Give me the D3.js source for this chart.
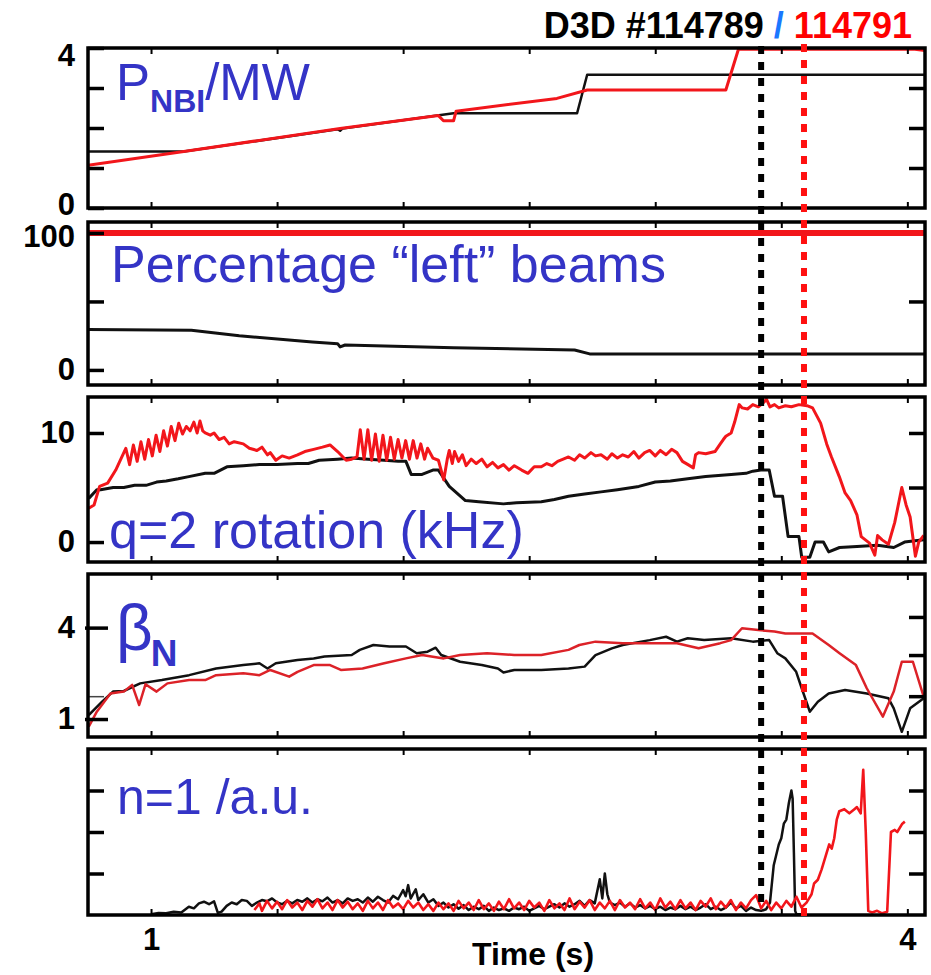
<!DOCTYPE html>
<html>
<head>
<meta charset="utf-8">
<script src="https://cdn.jsdelivr.net/npm/d3@7/dist/d3.min.js"></script>
<style>
  body { margin: 0; background: #fff; }
  svg text { font-family: "Liberation Sans", Arial, sans-serif; }
</style>
</head>
<body>
<svg id="chart" width="931" height="975"></svg>
<script>
// time axis
const timeDomain = [0.75, 4.07];
const timeTicks = [1, 1.5, 2, 2.5, 3, 3.5, 4];
const timeLabels = [1, 4];

// shots and the two marked times (s)
const shotBlack = 'D3D #114789 ';
const shotRed = ' 114791';
const markBlack = 3.42;
const markRed = 3.59;

// P_NBI (MW)
const pnbiBlack = [[0.75, 1.41], [1.13, 1.41], [1.74, 1.97], [1.75, 1.93], [1.76, 1.99], [2.2, 2.37],
  [2.69, 2.37], [2.73, 3.33], [4.07, 3.33]];
const pnbiRed = [[0.75, 1.07], [1.13, 1.41], [1.75, 1.99], [2.14, 2.31], [2.16, 2.18], [2.2, 2.18],
  [2.21, 2.42], [2.61, 2.74], [2.73, 2.95], [3.28, 2.95], [3.33, 3.97], [4.03, 3.97], [4.07, 3.94]];

// percentage "left" beams
const leftBlack = [[0.75, 29.5], [1.16, 29], [1.35, 25], [1.64, 20.4], [1.74, 19.2], [1.75, 16.8],
  [1.77, 18.2], [2.2, 16.2], [2.68, 14.6], [2.74, 11.7], [4.07, 11.7]];
const leftRed = [[0.75, 100], [4.07, 100]];

// q=2 rotation (kHz)
const rotBlack = [[0.753, 4.0], [0.785, 4.8], [0.8, 4.8], [0.85, 5.0], [0.892, 5.0], [0.935, 5.2],
  [0.98, 5.2], [1.022, 5.5], [1.06, 5.6], [1.108, 5.8], [1.15, 6.0], [1.215, 6.3], [1.25, 6.3],
  [1.301, 6.9], [1.366, 7.0], [1.43, 7.1], [1.5, 7.1], [1.581, 7.2], [1.624, 7.2], [1.667, 7.5],
  [1.74, 7.6], [1.796, 7.7], [1.86, 7.6], [1.925, 7.5], [1.98, 7.4], [2.011, 7.4], [2.032, 6.2],
  [2.075, 6.2], [2.118, 6.6], [2.14, 6.6], [2.183, 5.1], [2.247, 3.8], [2.3, 3.7], [2.398, 3.5],
  [2.45, 3.6], [2.548, 3.7], [2.6, 3.9], [2.656, 4.2], [2.72, 4.4], [2.785, 4.6], [2.85, 4.8],
  [2.935, 5.1], [3.0, 5.5], [3.06, 5.6], [3.129, 5.8], [3.2, 6.0], [3.301, 6.2], [3.36, 6.3],
  [3.387, 6.5], [3.419, 6.6], [3.452, 6.6], [3.473, 4.2], [3.505, 4.2], [3.527, 0.5], [3.57, 0.5],
  [3.581, -1.4], [3.613, -1.4], [3.634, 0.0], [3.667, 0.0], [3.688, -0.9], [3.731, -0.5],
  [3.8, -0.4], [3.882, -0.3], [3.946, -0.5], [3.989, 0.0], [4.065, 0.2]];
const rotRed = [[0.753, 3.1], [0.774, 3.4], [0.796, 5.1], [0.828, 5.4], [0.86, 6.6], [0.882, 7.7],
  [0.9, 8.6], [0.915, 7.1], [0.93, 8.9], [0.945, 7.4], [0.96, 9.2], [0.975, 7.6], [0.99, 9.4],
  [1.005, 7.9], [1.02, 9.8], [1.035, 8.3], [1.05, 10.2], [1.065, 8.8], [1.08, 10.6], [1.095, 9.3],
  [1.11, 10.9], [1.125, 9.9], [1.14, 10.6], [1.155, 10.2], [1.17, 11.0], [1.183, 10.0], [1.194, 11.1],
  [1.205, 10.2], [1.215, 10.0],
  [1.235, 9.8], [1.25, 10.0], [1.27, 9.4], [1.29, 9.6], [1.31, 9.0], [1.33, 9.2], [1.366, 9.0],
  [1.39, 8.6], [1.42, 8.4], [1.44, 8.7], [1.462, 8.0], [1.473, 8.2], [1.495, 7.5], [1.52, 7.9],
  [1.548, 7.7], [1.581, 8.0], [1.61, 8.3], [1.645, 8.5], [1.68, 8.7], [1.71, 8.9], [1.74, 8.3],
  [1.774, 7.5], [1.796, 7.6], [1.817, 7.8], [1.83, 10.3], [1.845, 7.6], [1.86, 10.3], [1.875, 7.5],
  [1.89, 9.9], [1.905, 7.4], [1.92, 9.8], [1.935, 7.5], [1.95, 9.6], [1.965, 7.6], [1.98, 9.4],
  [1.995, 7.7], [2.01, 9.3], [2.025, 7.6], [2.04, 9.3], [2.055, 7.7], [2.07, 9.0], [2.085, 7.6],
  [2.097, 8.6], [2.118, 7.7], [2.14, 7.5], [2.161, 5.7], [2.175, 7.6],
  [2.183, 8.4], [2.195, 7.2], [2.204, 8.3], [2.22, 7.4], [2.235, 8.0], [2.25, 7.0], [2.27, 7.6],
  [2.29, 7.2], [2.312, 7.6], [2.333, 6.9], [2.355, 7.3], [2.376, 6.8], [2.398, 7.1], [2.42, 6.6],
  [2.441, 7.0], [2.47, 6.6], [2.495, 6.3], [2.52, 6.9], [2.548, 6.9], [2.57, 7.2], [2.59, 7.0],
  [2.613, 7.4], [2.635, 7.6], [2.656, 7.8], [2.68, 7.5], [2.7, 8.0], [2.72, 7.7], [2.745, 8.2],
  [2.763, 7.9], [2.785, 8.0], [2.81, 7.6], [2.828, 8.1], [2.85, 7.7], [2.871, 8.0], [2.893, 7.8],
  [2.915, 8.3], [2.935, 7.7], [2.958, 8.2], [2.978, 8.4], [3.0, 7.9], [3.02, 8.4], [3.043, 8.0],
  [3.065, 8.5], [3.086, 8.2], [3.108, 7.4], [3.13, 7.1], [3.151, 6.8], [3.16, 8.0], [3.172, 8.2],
  [3.2, 8.1], [3.237, 8.3], [3.258, 9.0], [3.27, 9.4], [3.28, 9.7], [3.301, 10.0], [3.315, 11.0],
  [3.333, 12.6], [3.345, 12.3], [3.366, 12.2], [3.387, 12.6], [3.409, 12.4], [3.43, 12.8],
  [3.441, 13.1], [3.455, 12.4], [3.473, 12.6], [3.49, 12.3], [3.516, 12.5], [3.54, 12.4],
  [3.57, 12.6], [3.602, 12.5], [3.624, 12.3], [3.656, 10.9], [3.68, 9.0], [3.699, 7.8], [3.73, 6.0],
  [3.753, 4.5], [3.775, 3.8], [3.8, 2.5], [3.817, 0.5], [3.85, -0.1], [3.871, -1.2], [3.882, 0.6],
  [3.9, 0.2], [3.925, -0.2], [3.95, 1.8], [3.978, 5.0], [3.995, 3.4], [4.011, 2.3], [4.032, -1.3],
  [4.045, 0.0], [4.065, 0.6]];

// beta_N
const betaBlack = [[0.753, 1.13], [0.806, 1.57], [0.849, 1.9], [0.892, 1.92], [0.957, 2.17],
  [1.043, 2.28], [1.151, 2.44], [1.258, 2.66], [1.366, 2.77], [1.43, 2.83], [1.462, 2.66],
  [1.495, 2.83], [1.581, 2.94], [1.645, 2.99], [1.688, 3.05], [1.796, 3.1], [1.828, 3.27],
  [1.882, 3.43], [1.946, 3.38], [2.011, 3.38], [2.054, 3.16], [2.097, 3.21], [2.129, 3.34],
  [2.151, 3.1], [2.226, 2.88], [2.312, 2.77], [2.376, 2.66], [2.398, 2.53], [2.441, 2.61],
  [2.548, 2.61], [2.656, 2.66], [2.72, 2.72], [2.763, 3.1], [2.828, 3.32], [2.871, 3.43],
  [2.978, 3.59], [3.043, 3.7], [3.086, 3.54], [3.129, 3.65], [3.194, 3.59], [3.301, 3.65],
  [3.387, 3.54], [3.452, 3.59], [3.484, 3.16], [3.516, 2.99], [3.559, 2.55], [3.581, 2.01],
  [3.613, 1.24], [3.645, 1.57], [3.688, 1.84], [3.753, 1.95], [3.839, 1.84], [3.925, 1.68],
  [3.946, 1.35], [3.978, 0.58], [4.011, 1.35], [4.065, 1.68]];
const betaRed = [[0.753, 0.75], [0.785, 1.24], [0.839, 1.84], [0.892, 1.9], [0.925, 2.12],
  [0.953, 1.46], [0.978, 2.14], [1.022, 1.9], [1.065, 2.17], [1.151, 2.28], [1.215, 2.28],
  [1.258, 2.44], [1.366, 2.5], [1.43, 2.44], [1.473, 2.61], [1.548, 2.39], [1.581, 2.55],
  [1.645, 2.77], [1.71, 2.77], [1.753, 2.61], [1.839, 2.66], [1.925, 2.83], [2.011, 2.99],
  [2.075, 3.1], [2.161, 2.99], [2.226, 3.1], [2.333, 3.16], [2.441, 3.1], [2.548, 3.1],
  [2.656, 3.27], [2.699, 3.43], [2.763, 3.54], [2.871, 3.49], [2.978, 3.49], [3.086, 3.49],
  [3.172, 3.32], [3.258, 3.49], [3.301, 3.59], [3.344, 3.98], [3.409, 3.92], [3.473, 3.87],
  [3.516, 3.81], [3.624, 3.81], [3.688, 3.43], [3.731, 3.16], [3.796, 2.77], [3.839, 2.01],
  [3.903, 1.08], [3.946, 1.9], [3.978, 2.88], [4.022, 2.88], [4.065, 1.73]];

// n=1 amplitude (a.u.)
const n1Black = [[1.0, 0.02], [1.03, 0.05], [1.06, 0.04], [1.09, 0.08], [1.12, 0.06], [1.15, 0.2],
  [1.17, 0.16], [1.19, 0.28], [1.21, 0.32], [1.23, 0.26], [1.25, 0.33], [1.265, 0.05], [1.28, 0.08],
  [1.3, 0.22], [1.32, 0.3], [1.34, 0.26], [1.36, 0.36], [1.38, 0.34], [1.4, 0.22], [1.42, 0.3],
  [1.44, 0.36], [1.46, 0.33], [1.48, 0.4], [1.5, 0.3], [1.52, 0.26], [1.54, 0.34], [1.56, 0.28],
  [1.58, 0.36], [1.6, 0.32], [1.62, 0.4], [1.64, 0.3], [1.66, 0.38], [1.68, 0.33], [1.7, 0.42],
  [1.72, 0.3], [1.74, 0.36], [1.76, 0.28], [1.78, 0.4], [1.8, 0.34], [1.82, 0.38], [1.84, 0.3],
  [1.86, 0.42], [1.88, 0.32], [1.9, 0.44], [1.92, 0.36], [1.94, 0.3], [1.96, 0.46], [1.98, 0.38],
  [2.0, 0.6], [2.01, 0.45], [2.02, 0.72], [2.03, 0.4], [2.05, 0.62], [2.06, 0.36], [2.08, 0.5],
  [2.1, 0.3], [2.12, 0.38], [2.14, 0.22], [2.16, 0.3], [2.18, 0.18], [2.2, 0.26], [2.22, 0.15],
  [2.24, 0.24], [2.26, 0.12], [2.28, 0.2], [2.3, 0.14], [2.32, 0.22], [2.34, 0.1], [2.36, 0.18],
  [2.38, 0.12], [2.4, 0.16], [2.42, 0.1], [2.44, 0.18], [2.46, 0.14], [2.48, 0.2], [2.5, 0.1],
  [2.52, 0.16], [2.54, 0.22], [2.56, 0.14], [2.58, 0.2], [2.6, 0.26], [2.62, 0.18], [2.64, 0.28],
  [2.66, 0.2], [2.68, 0.26], [2.7, 0.34], [2.72, 0.22], [2.74, 0.36], [2.76, 0.28], [2.78, 0.86],
  [2.79, 0.4], [2.8, 1.0], [2.81, 0.5], [2.82, 0.3], [2.84, 0.24], [2.86, 0.3], [2.88, 0.2],
  [2.9, 0.28], [2.92, 0.18], [2.94, 0.24], [2.96, 0.16], [2.98, 0.22], [3.0, 0.14], [3.02, 0.2],
  [3.04, 0.12], [3.06, 0.18], [3.08, 0.14], [3.1, 0.22], [3.12, 0.14], [3.14, 0.2], [3.16, 0.12],
  [3.18, 0.18], [3.2, 0.26], [3.22, 0.14], [3.24, 0.2], [3.26, 0.12], [3.28, 0.18], [3.3, 0.3],
  [3.32, 0.16], [3.34, 0.22], [3.36, 0.1], [3.38, 0.18], [3.4, 0.12], [3.42, 0.1], [3.44, 0.14],
  [3.455, 0.3], [3.47, 1.2], [3.49, 1.7], [3.5, 1.85], [3.51, 2.2], [3.52, 2.3], [3.53, 2.7],
  [3.54, 3.0], [3.545, 2.8], [3.55, 1.5], [3.555, 0.1], [3.56, 0.02], [3.58, 0.02]];
const n1Red = [[1.41, 0.12], [1.43, 0.28], [1.44, 0.1], [1.46, 0.34], [1.48, 0.16], [1.5, 0.32],
  [1.52, 0.14], [1.54, 0.36], [1.56, 0.18], [1.58, 0.3], [1.6, 0.12], [1.62, 0.34], [1.64, 0.2],
  [1.66, 0.38], [1.68, 0.16], [1.7, 0.3], [1.72, 0.12], [1.74, 0.36], [1.76, 0.18], [1.78, 0.32],
  [1.8, 0.14], [1.82, 0.28], [1.84, 0.1], [1.86, 0.34], [1.88, 0.16], [1.9, 0.3], [1.92, 0.12],
  [1.94, 0.36], [1.96, 0.18], [1.98, 0.28], [2.0, 0.14], [2.02, 0.34], [2.04, 0.18], [2.06, 0.3],
  [2.08, 0.12], [2.1, 0.26], [2.12, 0.1], [2.14, 0.3], [2.16, 0.14], [2.18, 0.28], [2.2, 0.1],
  [2.22, 0.34], [2.24, 0.16], [2.26, 0.3], [2.28, 0.12], [2.3, 0.36], [2.32, 0.14], [2.34, 0.28],
  [2.36, 0.1], [2.38, 0.32], [2.4, 0.14], [2.42, 0.38], [2.44, 0.16], [2.46, 0.3], [2.48, 0.12],
  [2.5, 0.34], [2.52, 0.18], [2.54, 0.3], [2.56, 0.1], [2.58, 0.36], [2.6, 0.16], [2.62, 0.28],
  [2.64, 0.12], [2.66, 0.4], [2.68, 0.14], [2.7, 0.32], [2.72, 0.18], [2.74, 0.36], [2.76, 0.12],
  [2.78, 0.3], [2.8, 0.16], [2.82, 0.34], [2.84, 0.12], [2.86, 0.36], [2.88, 0.18], [2.9, 0.3],
  [2.92, 0.14], [2.94, 0.38], [2.96, 0.16], [2.98, 0.3], [3.0, 0.12], [3.02, 0.4], [3.04, 0.18],
  [3.06, 0.32], [3.08, 0.14], [3.1, 0.36], [3.12, 0.16], [3.14, 0.3], [3.16, 0.12], [3.18, 0.34],
  [3.2, 0.2], [3.22, 0.4], [3.24, 0.14], [3.26, 0.32], [3.28, 0.18], [3.3, 0.36], [3.32, 0.12],
  [3.34, 0.3], [3.36, 0.16], [3.38, 0.36], [3.4, 0.48], [3.42, 0.16], [3.44, 0.34], [3.46, 0.12],
  [3.48, 0.3], [3.5, 0.16], [3.52, 0.34], [3.54, 0.2], [3.56, 0.44], [3.58, 0.18], [3.6, 0.3],
  [3.62, 0.5], [3.63, 0.76], [3.645, 0.85], [3.66, 1.1], [3.675, 1.4], [3.69, 1.7], [3.7, 1.6],
  [3.71, 1.85], [3.72, 2.3], [3.73, 2.5], [3.75, 2.55], [3.77, 2.45], [3.79, 2.55], [3.8, 2.6],
  [3.815, 2.45], [3.825, 3.5], [3.835, 2.0], [3.845, 0.1], [3.86, 0.06], [3.88, 0.1], [3.9, 0.04],
  [3.92, 0.08], [3.935, 2.0], [3.95, 2.05], [3.96, 2.0], [3.98, 2.2], [3.99, 2.25]];

const BLACK = '#111';
const RED = '#f2161b';
const LABEL_BLUE = '#3434c6';

const panels = [
  {
    key: 'pnbi', top: 48, bottom: 208, domain: [0, 4],
    series: [{ data: pnbiBlack, color: BLACK, width: 2.5 }, { data: pnbiRed, color: RED, width: 3 }],
    leftTicks: [0, 1, 2, 3, 4], leftLabels: [0, 4], rightTicks: [1, 2, 3],
  },
  {
    key: 'left', top: 222, bottom: 385, domain: [-11, 108],
    series: [{ data: leftBlack, color: BLACK, width: 3 }, { data: leftRed, color: RED, width: 6 }],
    leftTicks: [0, 50, 100], leftLabels: [0, 100], rightTicks: [50],
  },
  {
    key: 'rot', top: 397, bottom: 562, domain: [-1.83, 13.3],
    series: [{ data: rotBlack, color: BLACK, width: 3 }, { data: rotRed, color: RED, width: 3 }],
    leftTicks: [0, 10], leftLabels: [0, 10], rightTicks: [5, 10],
  },
  {
    key: 'beta', top: 574, bottom: 737, domain: [0.41, 5.76],
    series: [{ data: betaBlack, color: BLACK, width: 2.5 }, { data: betaRed, color: '#dc2228', width: 2.5 }],
    leftTicks: [1, 1.75, 4], leftLabels: [1, 4], rightTicks: [1.75, 3.1, 4.35],
  },
  {
    key: 'n1', top: 749, bottom: 915, domain: [0, 4],
    series: [{ data: n1Black, color: BLACK, width: 2.5 }, { data: n1Red, color: RED, width: 2.6 }],
    leftTicks: [1, 2, 3], leftLabels: [], rightTicks: [1, 2, 3],
  },
];

const svg = d3.select('#chart');
const x = d3.scaleLinear().domain(timeDomain).range([88, 925]);
const [x0, x1] = x.range();

panels.forEach((p, idx) => {
  const y = d3.scaleLinear().domain(p.domain).range([p.bottom, p.top]);
  const g = svg.append('g').attr('class', 'panel-' + p.key);

  g.append('clipPath').attr('id', 'clip-' + p.key)
    .append('rect')
    .attr('x', x0).attr('y', p.top)
    .attr('width', x1 - x0).attr('height', p.bottom - p.top);

  const line = d3.line().x(d => x(d[0])).y(d => y(d[1]));

  g.append('g').attr('clip-path', `url(#clip-${p.key})`)
    .selectAll('path')
    .data(p.series)
    .join('path')
      .attr('d', s => line(s.data))
      .attr('fill', 'none')
      .attr('stroke', s => s.color)
      .attr('stroke-width', s => s.width)
      .attr('stroke-linejoin', 'round');

  // left axis, ticks inward
  const left = g.append('g')
    .attr('transform', `translate(${x0},0)`)
    .call(d3.axisLeft(y)
      .tickValues(p.leftTicks)
      .tickSize(-16)
      .tickPadding(13)
      .tickFormat(d => p.leftLabels.includes(d) ? d3.format('d')(d) : ''));
  left.select('.domain').remove();
  left.selectAll('line').attr('stroke', '#000').attr('stroke-width', 3.5);
  left.selectAll('text')
    .attr('fill', '#000')
    .style('font-size', '31px')
    .style('font-weight', 'bold');

  if (p.key === 'beta') {
    // pasted labels carry a dash through the axis
    left.selectAll('.tick line').filter(d => p.leftLabels.includes(d)).attr('x1', -3).attr('x2', 20);
    left.selectAll('.tick line').filter(d => d === 1.75).attr('stroke-width', 1.5).attr('stroke', '#444');
  }
  if (p.key === 'pnbi') {
    left.selectAll('.tick text').filter(d => d === 4).attr('dy', '0.55em');
    left.selectAll('.tick text').filter(d => d === 0).attr('dy', '0.22em');
  }
  if (p.key === 'left') {
    left.selectAll('.tick text').filter(d => d === 100).attr('dy', '0.45em');
  }

  const right = g.append('g')
    .attr('transform', `translate(${x1},0)`)
    .call(d3.axisRight(y).tickValues(p.rightTicks).tickSize(-16).tickFormat(''));
  right.select('.domain').remove();
  right.selectAll('line').attr('stroke', '#000').attr('stroke-width', 3.5);

  // time ticks along top and bottom edges
  const topAxis = g.append('g')
    .attr('transform', `translate(0,${p.top})`)
    .call(d3.axisTop(x).tickValues(timeTicks).tickSize(-6).tickFormat(''));
  topAxis.select('.domain').remove();
  topAxis.selectAll('line').attr('stroke', '#000').attr('stroke-width', 2);

  const isLast = idx === panels.length - 1;
  const bottomAxis = g.append('g')
    .attr('transform', `translate(0,${p.bottom})`)
    .call(d3.axisBottom(x).tickValues(timeTicks).tickSize(-6).tickPadding(13)
      .tickFormat(d => isLast && timeLabels.includes(d) ? d3.format('d')(d) : ''));
  bottomAxis.select('.domain').remove();
  bottomAxis.selectAll('line').attr('stroke', '#000').attr('stroke-width', 2);
  bottomAxis.selectAll('text')
    .attr('fill', '#000')
    .style('font-size', '31px')
    .style('font-weight', 'bold');

  g.append('rect')
    .attr('x', x0).attr('y', p.top)
    .attr('width', x1 - x0).attr('height', p.bottom - p.top)
    .attr('fill', 'none')
    .attr('stroke', '#000')
    .attr('stroke-width', 3.5);
});

// panel labels
const lbl = svg.append('g').attr('fill', LABEL_BLUE);

const pLbl = lbl.append('text').attr('x', 116).attr('y', 100).style('font-size', '51px');
pLbl.append('tspan').text('P');
pLbl.append('tspan').attr('dy', 12).style('font-size', '32px').style('font-weight', 'bold').text('NBI');
pLbl.append('tspan').attr('dy', -12).text('/MW');

lbl.append('text').attr('x', 111).attr('y', 282).style('font-size', '52px')
  .text('Percentage \u201cleft\u201d beams');

lbl.append('text').attr('x', 109).attr('y', 548).style('font-size', '52px')
  .text('q=2 rotation (kHz)');

const bLbl = lbl.append('text').attr('x', 116).attr('y', 650).style('font-size', '64px');
bLbl.append('tspan').text('\u03b2');
bLbl.append('tspan').attr('dy', 16).attr('dx', -2).style('font-size', '37px').style('font-weight', 'bold').text('N');

lbl.append('text').attr('x', 117).attr('y', 814).style('font-size', '50px')
  .text('n=1 /a.u.');

// shot title
const title = svg.append('text')
  .attr('x', 912).attr('y', 38)
  .attr('text-anchor', 'end')
  .style('font-size', '36px')
  .style('font-weight', 'bold');
title.append('tspan').attr('fill', '#000').text(shotBlack);
title.append('tspan').attr('fill', '#1a78ff').text('/');
title.append('tspan').attr('fill', '#ff0000').text(shotRed);

// x axis title
svg.append('text')
  .attr('x', 533).attr('y', 965)
  .attr('text-anchor', 'middle')
  .style('font-size', '32px')
  .style('font-weight', 'bold')
  .text('Time (s)');

// dotted markers across all panels
const marks = [
  { t: markBlack, color: '#000', y1: 46, y2: 904 },
  { t: markRed, color: '#ff1010', y1: 44, y2: 916 },
];
svg.append('g').selectAll('line')
  .data(marks)
  .join('line')
    .attr('x1', d => x(d.t)).attr('x2', d => x(d.t))
    .attr('y1', d => d.y1).attr('y2', d => d.y2)
    .attr('stroke', d => d.color)
    .attr('stroke-width', 6)
    .attr('stroke-dasharray', '8,8');
</script>
</body>
</html>
